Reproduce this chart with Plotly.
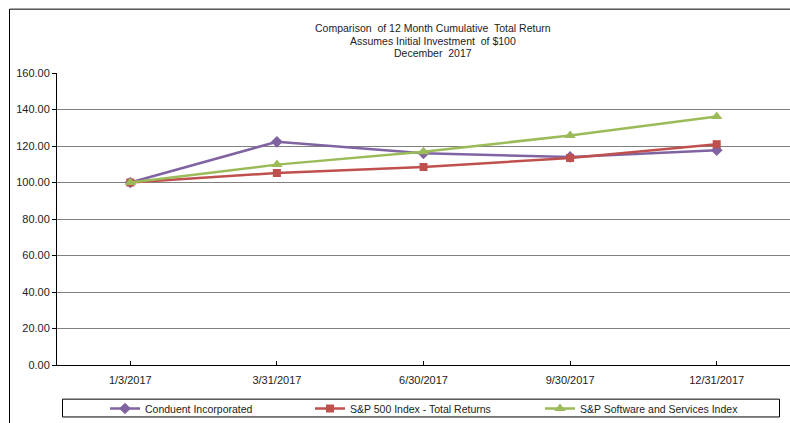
import plotly.graph_objects as go

dates = ["1/3/2017", "3/31/2017", "6/30/2017", "9/30/2017", "12/31/2017"]
conduent = [100.0, 122.3, 116.0, 114.0, 117.7]
sp500 = [100.0, 105.2, 108.5, 113.4, 121.0]
software = [100.0, 109.8, 116.8, 125.8, 136.2]
y_ticks = [0, 20, 40, 60, 80, 100, 120, 140, 160]
title_lines = ["Comparison  of 12 Month Cumulative  Total Return",
               "Assumes Initial Investment  of $100",
               "December  2017"]

W, H = 790, 423
L, R, T, B = 57, 0, 73, 55
pw, ph = W - L - R, H - T - B

def px(x):
    return (x - L) / pw

def py(y):
    return (H - B - y) / ph

font = dict(family="Liberation Sans, Arial, sans-serif", size=11, color="#222222")

fig = go.Figure()
fig.add_trace(go.Scatter(x=dates, y=conduent, name="Conduent Incorporated", mode="lines+markers",
                         line=dict(color="#8064A2", width=2.5),
                         marker=dict(symbol="diamond", size=9, color="#8064A2"), legend="legend"))
fig.add_trace(go.Scatter(x=dates, y=sp500, name="S&P 500 Index - Total Returns", mode="lines+markers",
                         line=dict(color="#C0504D", width=2.5),
                         marker=dict(symbol="square", size=8, color="#C0504D"), legend="legend2"))
fig.add_trace(go.Scatter(x=dates, y=software, name="S&P Software and Services Index", mode="lines+markers",
                         line=dict(color="#9BBB59", width=2.5),
                         marker=dict(symbol="triangle-up", size=10, color="#9BBB59"), legend="legend3"))

leg = dict(orientation="h", xanchor="left", yanchor="middle", bgcolor="rgba(0,0,0,0)",
           font=dict(family="Liberation Sans, Arial, sans-serif", size=10.5, color="#222222"),
           itemwidth=30, tracegroupgap=0)

title_y = [28, 41, 53]
annotations = [
    dict(text=t, xref="paper", yref="paper", x=px(433), y=py(yy), xanchor="center", yanchor="middle",
         showarrow=False, align="center", font=dict(font, size=10.5))
    for t, yy in zip(title_lines, title_y)
]

fig.update_layout(
    width=W, height=H,
    margin=dict(l=L, r=R, t=T, b=B, pad=0),
    paper_bgcolor="white", plot_bgcolor="white",
    font=font,
    showlegend=True,
    legend=dict(leg, x=px(105), y=py(412)),
    legend2=dict(leg, x=px(310), y=py(412)),
    legend3=dict(leg, x=px(540), y=py(412)),
    xaxis=dict(type="category", range=[-0.5, 4.5], showgrid=False, showline=True,
               linecolor="black", linewidth=1, ticks="inside", ticklen=4, tickcolor="black",
               tickfont=font, zeroline=False, ticklabelstandoff=5),
    yaxis=dict(range=[0, 160], tickvals=y_ticks, tickformat=".2f", showgrid=True,
               gridcolor="#808080", gridwidth=1, showline=True, linecolor="black", linewidth=1,
               ticks="outside", ticklen=4, tickcolor="black", tickfont=font, zeroline=False),
    shapes=[
        dict(type="rect", xref="paper", yref="paper", x0=px(9.5), y0=py(430), x1=px(800), y1=py(8.5),
             line=dict(color="black", width=1), fillcolor="rgba(0,0,0,0)", layer="below"),
        dict(type="rect", xref="paper", yref="paper", x0=px(62.5), y0=py(420.5), x1=px(779.5), y1=py(402.5),
             line=dict(color="black", width=1), fillcolor="rgba(0,0,0,0)"),
    ],
    annotations=annotations,
)

fig.write_html("out.html", config={"displayModeBar": False},
               post_script="document.body.style.margin='0px';document.body.style.padding='0px';")
